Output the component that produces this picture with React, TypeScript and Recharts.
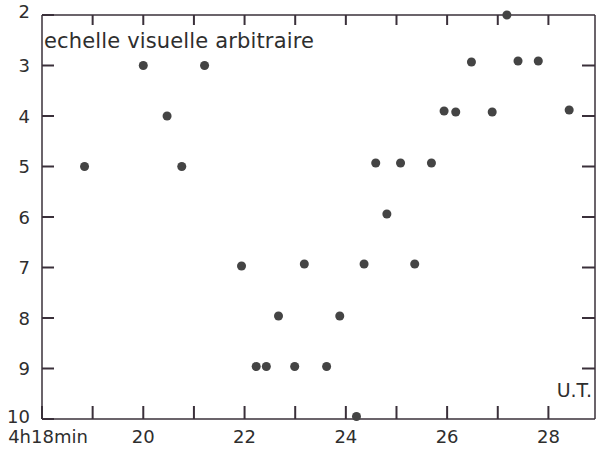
import React from "react";
import { ScatterChart, Scatter, XAxis, YAxis, ZAxis } from "recharts";

// Time (minutes after 4h) and arbitrary visual scale
const timeMinutes = [18.84, 20.0, 20.47, 20.76, 21.21, 21.94, 22.23, 22.43, 22.67, 22.99, 23.18, 23.62, 23.88, 24.21, 24.36, 24.59, 24.81, 25.08, 25.36, 25.69, 25.94, 26.17, 26.48, 26.89, 27.18, 27.4, 27.8, 28.41];
const visualScale = [5.0, 3.0, 4.0, 5.0, 3.0, 6.97, 8.96, 8.96, 7.96, 8.96, 6.93, 8.96, 7.96, 9.95, 6.93, 4.93, 5.94, 4.93, 6.93, 4.93, 3.9, 3.92, 2.93, 3.92, 2.0, 2.91, 2.91, 3.88];

const xTicks = [18, 19, 20, 21, 22, 23, 24, 25, 26, 27, 28];
const xTickLabels: Record<number, string> = { 18: "4h18min", 20: "20", 22: "22", 24: "24", 26: "26", 28: "28" };
const yTicks = [2, 3, 4, 5, 6, 7, 8, 9, 10];

const data = timeMinutes.map((x, i) => ({ x, y: visualScale[i] }));
const dataEarly = data.slice(0, 14);
const dataLate = data.slice(14);

const W = 602;
const H = 449;
const MARGIN = { top: 5, right: 2, bottom: 0, left: 12 };
const LEFT_W = 30;
const RIGHT_W = 5;
const TOP_H = 10;
const BOTTOM_H = 30;
const PLOT_W = W - MARGIN.left - MARGIN.right - LEFT_W - RIGHT_W;
const PLOT_H = H - MARGIN.top - MARGIN.bottom - TOP_H - BOTTOM_H;

const AXIS = "#3a303a";
const TEXT = "#2e2e2e";
const DOT = "#444444";
const FONT = "'DejaVu Sans', sans-serif";
const LINE = { stroke: AXIS, strokeWidth: 1.5 };
const TLINE = { stroke: AXIS, strokeWidth: 2 };

const BottomTick = (props: any) => {
  const { x, y, payload } = props;
  const v = payload.value;
  const label = xTickLabels[v];
  return (
    <g>
      {v > 18 && <line x1={x} x2={x} y1={y - PLOT_H} y2={y - PLOT_H + 10} stroke={AXIS} strokeWidth={2} />}
      {label && (
        <text x={v === 18 ? x + 6 : x} y={y + 24} textAnchor="middle" fontSize={18} fill={TEXT} fontFamily={FONT}>
          {label}
        </text>
      )}
    </g>
  );
};

const LeftTick = (props: any) => {
  const { x, y, payload } = props;
  const v = payload.value;
  const dy = v === 2 ? 3 : v === 10 ? 4 : 6.5;
  return (
    <g>
      {v > 2 && v < 10 && <line x1={x + PLOT_W} x2={x + PLOT_W - 13} y1={y} y2={y} stroke={AXIS} strokeWidth={2} />}
      <text x={x - 12} y={y + dy} textAnchor="end" fontSize={18} fill={TEXT} fontFamily={FONT}>
        {v}
      </text>
    </g>
  );
};

export default function App() {
  return (
    <div style={{ position: "absolute", left: 0, top: 0, width: W, height: H, background: "#fff" }}>
      <ScatterChart width={W} height={H} margin={MARGIN}>
        <XAxis xAxisId="b" type="number" dataKey="x" domain={[18, 28.92]} ticks={xTicks} orientation="bottom" height={BOTTOM_H} tickSize={-13} tickMargin={13} tickLine={TLINE} tick={<BottomTick />} axisLine={LINE} interval={0} />
        <XAxis xAxisId="t" type="number" dataKey="x" domain={[18, 28.92]} orientation="top" height={TOP_H} tickLine={false} tick={false} axisLine={LINE} />
        <YAxis yAxisId="l" type="number" dataKey="y" domain={[2, 10]} reversed ticks={yTicks} orientation="left" width={LEFT_W} tickSize={-12} tickMargin={12} tickLine={TLINE} tick={<LeftTick />} axisLine={LINE} interval={0} />
        <YAxis yAxisId="r" type="number" dataKey="y" domain={[2, 10]} reversed orientation="right" width={RIGHT_W} tickLine={false} tick={false} axisLine={LINE} />
        <ZAxis range={[72, 72]} />
        <Scatter data={dataEarly} xAxisId="b" yAxisId="r" fill={DOT} isAnimationActive={false} />
        <Scatter data={dataLate} xAxisId="t" yAxisId="l" fill={DOT} isAnimationActive={false} />
      </ScatterChart>
      <svg width={W} height={H} style={{ position: "absolute", left: 0, top: 0, pointerEvents: "none" }}>
        <text x={44} y={48} fontSize={21} fill={TEXT} fontFamily={FONT} letterSpacing={0.15}>
          echelle visuelle arbitraire
        </text>
        <text x={592} y={397} textAnchor="end" fontSize={19} fill={TEXT} fontFamily={FONT}>
          U.T.
        </text>
      </svg>
    </div>
  );
}
